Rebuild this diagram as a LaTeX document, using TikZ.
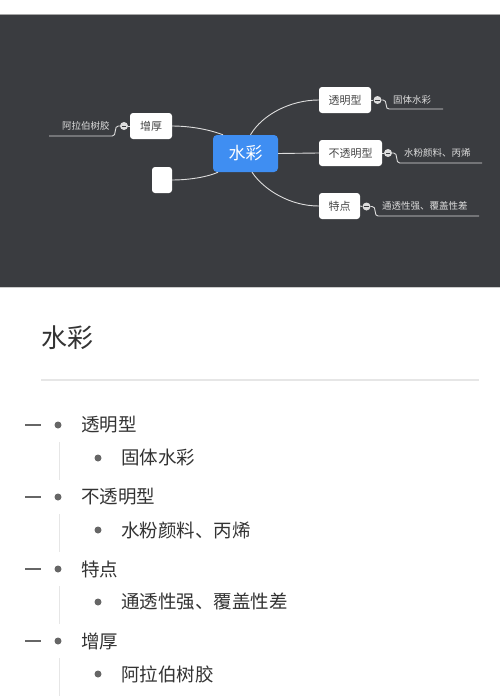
\documentclass[tikz,border=0pt]{standalone}
\usepackage{fontspec}
\setmainfont{Noto Sans CJK SC}
\usetikzlibrary{calc}
\definecolor{darkbg}{HTML}{3A3C40}
\definecolor{cblue}{HTML}{3F8EF2}
\definecolor{boxtext}{HTML}{444444}
\definecolor{linec}{HTML}{DDDDDD}
\definecolor{listtext}{HTML}{333333}
\definecolor{bulletc}{HTML}{666666}
\definecolor{guidec}{HTML}{E6E6E6}
\tikzset{
  x=1pt,y=-1pt,
  central/.style={fill=cblue,rounded corners=4pt,text=white,font=\fontsize{17}{17}\selectfont,inner sep=0pt},
  topic/.style={fill=white,rounded corners=3pt,text=boxtext,font=\fontsize{11}{11}\selectfont,inner sep=0pt},
  conn/.style={draw=linec,line width=0.9pt},
  leaf/.style={text=linec,font=\fontsize{9.5}{9.5}\selectfont,inner sep=0pt,anchor=west},
  fold/.style={circle,fill=linec,minimum size=8pt,inner sep=0pt},
  rowtext/.style={text=listtext,font=\fontsize{18.5}{18.5}\selectfont,inner sep=0pt,anchor=west},
  bul/.style={circle,fill=bulletc,minimum size=7pt,inner sep=0pt},
}
\begin{document}
\begin{tikzpicture}
\useasboundingbox (0,0) rectangle (500,696);
\fill[white] (0,0) rectangle (500,696);
% dark band
\fill[darkbg] (0,14) rectangle (500,287);
\draw[gray!70,line width=0.6pt] (0,14.3) -- (500,14.3);
\draw[gray!40,line width=0.8pt] (0,287.5) -- (500,287.5);

% central
\node[central,minimum width=65pt,minimum height=37pt] (c) at (245.5,153.5) {水彩};
% topics
\node[topic,minimum width=52pt,minimum height=26pt] (t1) at (345,100) {透明型};
\node[topic,minimum width=63pt,minimum height=26pt] (t2) at (350.5,153) {不透明型};
\node[topic,minimum width=41pt,minimum height=26pt] (t3) at (339.5,206) {特点};
\node[topic,minimum width=42pt,minimum height=26pt] (t4) at (151,126) {增厚};
\node[topic,minimum width=20pt,minimum height=26pt] (t5) at (162,180) {};

% connectors from central
\draw[conn] ($(c.north)+(5,0)$) .. controls (262,115) and (290,100) .. (t1.west);
\draw[conn] (c.east) -- (t2.west);
\draw[conn] ($(c.south)+(6.5,0)$) .. controls (264,190) and (290,206) .. (t3.west);
\draw[conn] ($(c.north)+(-22.5,0)$) .. controls (205,128) and (185,126) .. (t4.east);
\draw[conn] ($(c.south)+(-27.5,0)$) .. controls (205,178) and (185,180) .. (t5.east);

% fold circles
\node[fold] (f1) at (377.5,100) {};
\node[fold] (f2) at (388,153) {};
\node[fold] (f3) at (366.5,206.5) {};
\node[fold] (f4) at (124,126) {};
\foreach \f in {f1,f2,f3,f4}{
  \draw[darkbg,line width=0.9pt] ($(\f.center)+(-2.2,0)$) -- ($(\f.center)+(2.2,0)$);
}
\draw[conn] (t1.east) -- (f1.west);
\draw[conn] (t2.east) -- (f2.west);
\draw[conn] (t3.east) -- (f3.west);
\draw[conn] (t4.west) -- (f4.east);

% leaves
\node[leaf] (l1) at (393,100) {固体水彩};
\node[leaf] (l2) at (404,153) {水粉颜料、丙烯};
\node[leaf] (l3) at (382,206) {通透性强、覆盖性差};
\node[leaf] (l4) at (62,126) {阿拉伯树胶};
\coordinate (e1) at (443,109);
\coordinate (e2) at (482,163);
\coordinate (e3) at (479,216);
\coordinate (e4) at (49,136);
\draw[conn] (f1.east) -- ++(1.5,0) .. controls +(2,0) and +(0,-3) .. ++(3,5) .. controls +(0,3) and +(-2,0) .. ++(3,4) -- (e1);
\draw[conn] (f2.east) -- ++(1.5,0) .. controls +(2,0) and +(0,-3) .. ++(3,5) .. controls +(0,3) and +(-2,0) .. ++(3,5) -- (e2);
\draw[conn] (f3.east) -- ++(1.5,0) .. controls +(2,0) and +(0,-3) .. ++(3,5) .. controls +(0,3) and +(-2,0) .. ++(3,4.5) -- (e3);
\draw[conn] (f4.west) -- ++(-1.5,0) .. controls +(-2,0) and +(0,-3) .. ++(-3,5) .. controls +(0,3) and +(2,0) .. ++(-3,5) -- (e4);

% outline title
\node[text=listtext,font=\fontsize{26}{26}\selectfont,inner sep=0pt,anchor=west] (title) at (41,338) {水彩};
\draw[guidec,line width=1.2pt] (41,380) -- (479,380);

% list
\foreach \y/\main/\sub/\n in {425/透明型/固体水彩/1, 497/不透明型/水粉颜料、丙烯/2, 569/特点/通透性强、覆盖性差/3, 641/增厚/阿拉伯树胶/4}{
  \draw[bulletc,line width=1.6pt] (25,\y) -- (41,\y);
  \node[bul] (b\n) at (58,\y) {};
  \node[rowtext] (m\n) at (81,\y) {\main};
  \node[bul] (s\n) at (98,\y+33) {};
  \node[rowtext] (st\n) at (121,\y+33) {\sub};
}
\draw[guidec,line width=1pt] (59,442) -- (59,480);
\draw[guidec,line width=1pt] (59,514) -- (59,552);
\draw[guidec,line width=1pt] (59,586) -- (59,624);
\draw[guidec,line width=1pt] (59,658) -- (59,696);
\end{tikzpicture}
\end{document}
